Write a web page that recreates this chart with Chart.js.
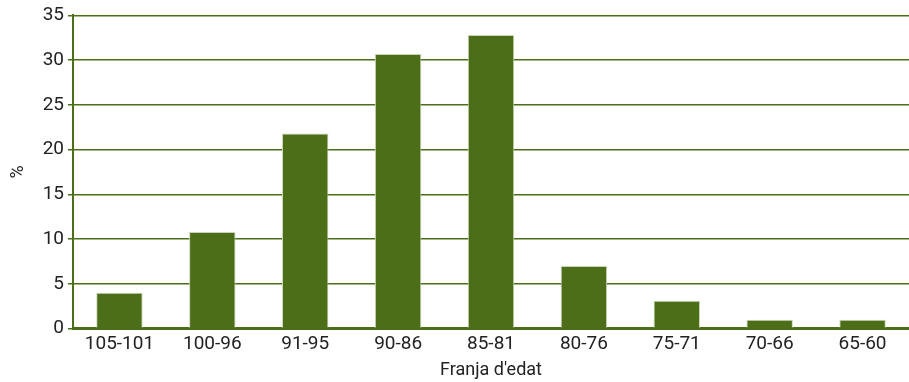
<!DOCTYPE html>
<html><head><meta charset="utf-8">
<script src="https://cdn.jsdelivr.net/npm/chart.js@4/dist/chart.umd.min.js"></script>
<style>html,body{margin:0;padding:0;background:#fff}#c{display:block}</style>
</head><body>
<canvas id="c" width="909" height="382"></canvas>
<script>
const categories = ["105-101","100-96","91-95","90-86","85-81","80-76","75-71","70-66","65-60"];
const values = [4.0, 10.8, 21.8, 30.7, 32.8, 7.0, 3.1, 1.0, 1.0];
const yTicks = [0,5,10,15,20,25,30,35];
const xTitle = "Franja d'edat";
const yTitle = "%";

const green = '#4d6e19';
const tickFont = {family: "Roboto, 'Liberation Sans', sans-serif", size: 19};
const titleFont = {family: "Roboto, 'Liberation Sans', sans-serif", size: 18};
new Chart(document.getElementById('c'), {
  type: 'bar',
  data: {labels: categories, datasets: [{data: values, backgroundColor: green, borderColor: '#c9d5b4', borderWidth: {top:1,left:1,right:1,bottom:0}, barPercentage: 0.5, categoryPercentage: 1.0}]},
  options: {
    responsive: false, animation: false,
    layout: {padding: {top: 8, right: 0, left: 8, bottom: 1}},
    plugins: {legend: {display: false}, tooltip: {enabled: false}},
    scales: {
      x: {
        grid: {display: false, drawTicks: false},
        border: {color: green, width: 3},
        ticks: {color: '#222', font: tickFont, padding: 4},
        title: {display: true, text: xTitle, color: '#222', font: titleFont, padding: {top: 0, bottom: 0}}
      },
      y: {
        min: 0, max: 35,
        afterBuildTicks: s => { s.ticks = yTicks.map(v => ({value: v})); },
        afterFit: s => { s.width = 65; },
        grid: {color: green, lineWidth: 1.5, tickLength: 5, drawOnChartArea: true},
        border: {color: green, width: 2},
        ticks: {color: '#222', font: tickFont, padding: 4},
        title: {display: true, text: yTitle, color: '#222', font: titleFont, padding: 0}
      }
    }
  }
});
</script>
</body></html>
